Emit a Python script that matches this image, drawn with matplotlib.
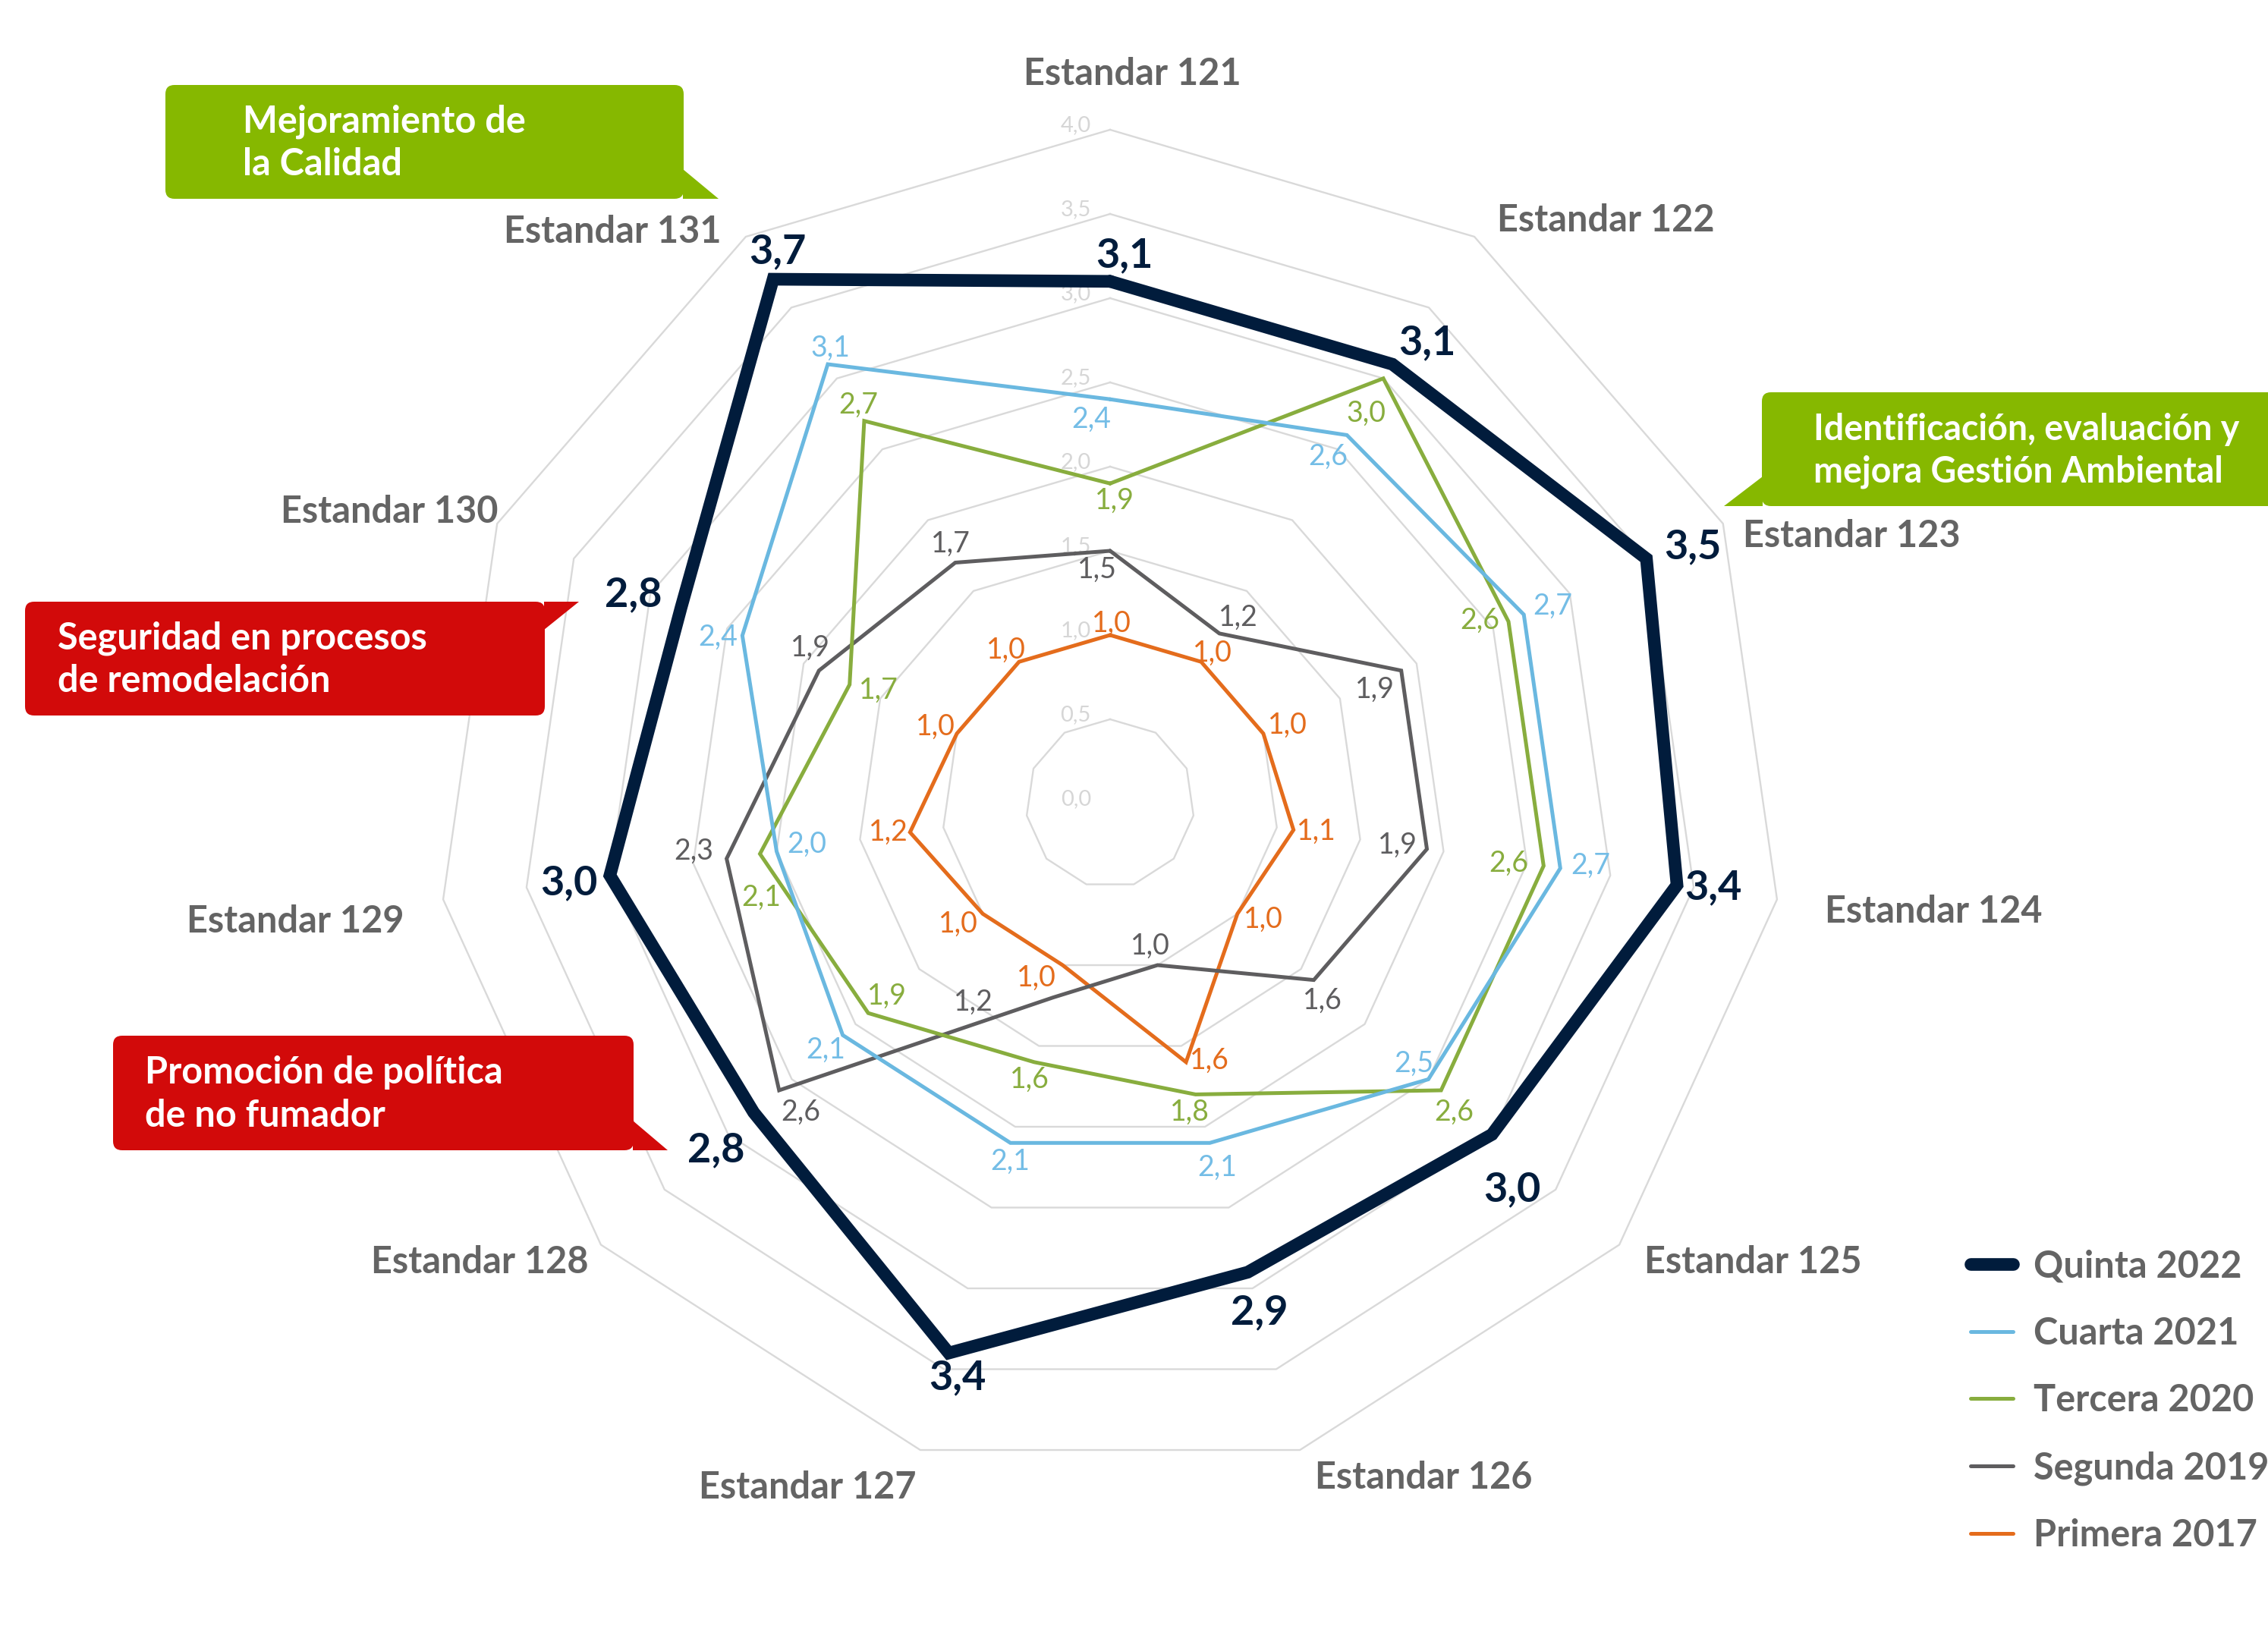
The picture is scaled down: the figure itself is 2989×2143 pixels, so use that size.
import numpy as np
import matplotlib.pyplot as plt
from matplotlib.patches import FancyBboxPatch, Polygon

plt.rcParams['font.family'] = ['Lato', 'DejaVu Sans']

W, H = 2989, 2143
CX, CY = 1463, 1059   # centre of the radar, pixels from top-left
U = 222.0             # pixels per score unit

categories = ['Estandar 121', 'Estandar 122', 'Estandar 123', 'Estandar 124',
              'Estandar 125', 'Estandar 126', 'Estandar 127', 'Estandar 128',
              'Estandar 129', 'Estandar 130', 'Estandar 131']
quinta_2022 = [3.1, 3.1, 3.5, 3.4, 3.0, 2.9, 3.4, 2.8, 3.0, 2.8, 3.7]
cuarta_2021 = [2.4, 2.6, 2.7, 2.7, 2.5, 2.1, 2.1, 2.1, 2.0, 2.4, 3.1]
tercera_2020 = [1.9, 3.0, 2.6, 2.6, 2.6, 1.8, 1.6, 1.9, 2.1, 1.7, 2.7]
segunda_2019 = [1.5, 1.2, 1.9, 1.9, 1.6, 1.0, 1.2, 2.6, 2.3, 1.9, 1.7]
primera_2017 = [1.0, 1.0, 1.0, 1.1, 1.0, 1.6, 1.0, 1.0, 1.2, 1.0, 1.0]
series_names = ['Quinta 2022', 'Cuarta 2021', 'Tercera 2020', 'Segunda 2019', 'Primera 2017']
ring_levels = [0.5, 1.0, 1.5, 2.0, 2.5, 3.0, 3.5, 4.0]
tick_values = [0.0, 0.5, 1.0, 1.5, 2.0, 2.5, 3.0, 3.5, 4.0]

colors = ['#011c3c', '#6ab8e0', '#88ad3e', '#5e5d5f', '#e46c1c']
label_colors = ['#011c3c', '#74bde6', '#88ad3e', '#5e5d5f', '#e46c1c']
widths = [12.0, 3.6, 3.6, 3.6, 3.6]

# label offsets (px in the shrunk view, y down) for every value label
lab_off = [
    [(10, -18), (24, -15), (32, -8), (25, 2), (14, 38), (8, 28), (6, 17), (-26, 26), (-28, 5), (-33, -9), (3, -19)],
    [(-13, 14), (-13, 15), (20, -6), (21, -2), (-10, -11), (5, 17), (0, 13), (-12, 10), (21, -5), (-17, 1), (2, -11)],
    [(3, 12), (-12, 24), (-20, -1), (-24, -2), (9, 15), (-4, 12), (-3, 12), (13, -12), (1, 30), (20, 4), (-4, -11)],
    [(-9, 13), (13, -11), (-18, 13), (-20, -3), (6, 14), (-5, -13), (-55, 3), (15, 15), (-23, -5), (-6, -16), (-3, -13)],
    [(1, -8), (8, -6), (17, -6), (16, 1), (18, 4), (16, -1), (-18, 9), (-17, 7), (-15, 0), (-15, -5), (-9, -8)],
]
S = 1.906
# category label offsets from the 4.0 vertex (px, y down) and alignment
cat_off = [(29, -74, 'center'), (30, -21, 'left'), (26, 16, 'left'), (63, 16, 'left'),
           (33, 23, 'left'), (20, 36, 'left'), (-5, 49, 'right'), (-16, 23, 'right'),
           (-52, 29, 'right'), (1, -16, 'right'), (-32, -6, 'right')]

n = len(categories)
theta = 2 * np.pi * np.arange(n) / n
sx, sy = np.sin(theta), np.cos(theta)

fig = plt.figure(figsize=(W / 100, H / 100), dpi=100)
ax = fig.add_axes([0, 0, 1, 1])
ax.set_xlim(-CX / U, (W - CX) / U)
ax.set_ylim(-(H - CY) / U, CY / U)
ax.axis('off')

# polygon grid
for r in ring_levels:
    ax.plot(np.append(r * sx, r * sx[0]), np.append(r * sy, r * sy[0]),
            color='#d9d9d9', lw=1.7, zorder=1)
for v in tick_values:
    ax.annotate(f'{v:.1f}'.replace('.', ','), (0, v), xytext=(-25, 6),
                textcoords='offset pixels', ha='right', va='center',
                fontsize=21, color='#d6d6d6', zorder=2)

data = [quinta_2022, cuarta_2021, tercera_2020, segunda_2019, primera_2017]
handles = []
for i in range(4, -1, -1):
    vals = np.array(data[i])
    xs, ys = vals * sx, vals * sy
    ln, = ax.plot(np.append(xs, xs[0]), np.append(ys, ys[0]), color=colors[i],
                  lw=widths[i], solid_joinstyle='miter', solid_capstyle='round',
                  zorder=3 + (4 - i))
    handles.insert(0, ln)
    for k in range(n):
        dx, dy = lab_off[i][k]
        txt = f'{vals[k]:.1f}'.replace('.', ',')
        if i == 0:
            ax.annotate(txt, (xs[k], ys[k]), xytext=(dx * S, -dy * S),
                        textcoords='offset pixels', ha='center', va='center',
                        fontsize=39, fontweight='bold', color=label_colors[i], zorder=10)
        else:
            ax.annotate(txt, (xs[k], ys[k]), xytext=(dx * S, -dy * S),
                        textcoords='offset pixels', ha='center', va='center',
                        fontsize=27, color=label_colors[i], zorder=10)

# category labels
for k in range(n):
    dx, dy, ha = cat_off[k]
    ax.annotate(categories[k], (4.0 * sx[k], 4.0 * sy[k]), xytext=(dx, -dy),
                textcoords='offset pixels', ha=ha, va='center',
                fontsize=35, fontweight='bold', color='#646464')

leg = ax.legend(handles, series_names, loc='upper left',
                bbox_to_anchor=(2597 / W, 1 - 1646 / H), bbox_transform=fig.transFigure,
                frameon=False, prop={'size': 35, 'weight': 'bold'}, labelcolor='#646464',
                handlelength=1.15, handletextpad=0.55, labelspacing=0.9,
                borderpad=0, borderaxespad=0)


def fx(x):
    return x / W


def fy(y):
    return 1 - y / H


def callout(x0, y0, x1, y1, tri, color, lines, tx, ty, size=35):
    box = FancyBboxPatch((fx(x0), fy(y1)), fx(x1) - fx(x0), fy(y0) - fy(y1),
                         boxstyle='round,pad=0,rounding_size=0.004',
                         transform=fig.transFigure, facecolor=color,
                         edgecolor='none', mutation_aspect=W / H)
    fig.patches.append(box)
    fig.patches.append(Polygon([(fx(a), fy(b)) for a, b in tri], closed=True,
                               transform=fig.transFigure, facecolor=color,
                               edgecolor='none'))
    fig.text(fx(tx), fy(ty), lines, ha='left', va='center', color='white',
             fontsize=size, fontweight='bold', linespacing=1.3)


callout(218, 112, 901, 262, [(900, 223), (947, 262), (900, 262)], '#86b800',
        'Mejoramiento de\nla Calidad', 320, 188)
callout(2322, 517, 3020, 667, [(2323, 628), (2272, 667), (2323, 667)], '#86b800',
        'Identificación, evaluación y\nmejora Gestión Ambiental', 2390, 594, size=33.5)
callout(33, 793, 718, 943, [(717, 830), (763, 793), (717, 793)], '#d20a0a',
        'Seguridad en procesos\nde remodelación', 76, 869)
callout(149, 1365, 835, 1516, [(834, 1477), (880, 1516), (834, 1516)], '#d20a0a',
        'Promoción de política\nde no fumador', 191, 1442)

fig.savefig('out.png', dpi=100)
